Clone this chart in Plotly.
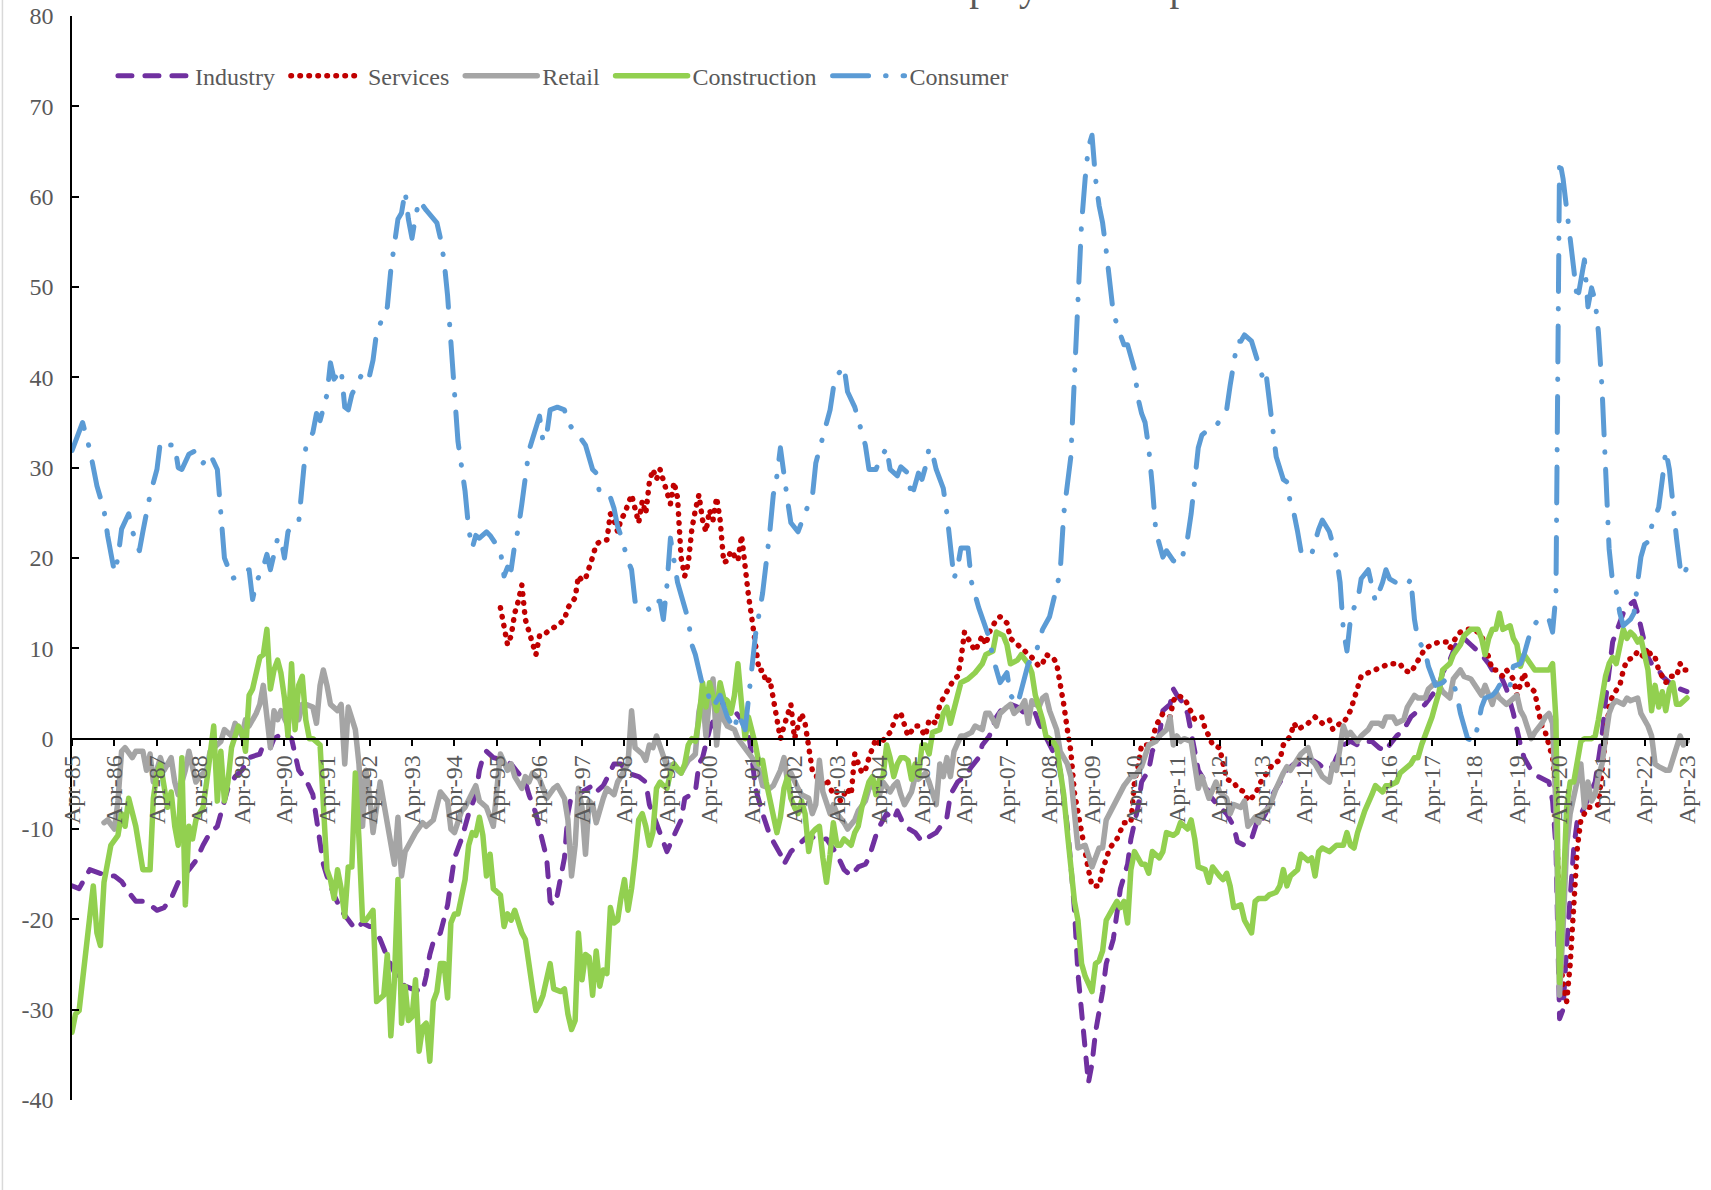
import pandas as pd
import plotly.graph_objects as go

# ---------------- data (month offset from Apr-1985, value) ----------------
START = "1985-04-01"

industry = [
    (0,-16.3),(2,-16.6),(5,-14.5),(8,-14.9),(10,-15.2),(12,-15.2),(14,-15.8),(16,-17),(18,-18),(20,-18),
    (22,-18.4),(24,-19),(26,-18.7),(28,-17.7),(30,-15.9),(33,-14.5),(35,-13.5),(37,-11.8),(39,-10.4),(41,-9.7),
    (43,-6.9),(44,-5.5),(46,-4.2),(48,-3.5),(50,-2.1),(53,-1.7),(54,-0.7),(56,-1),(57,0),(60,0.7),
    (61,0.3),(62,0),(64,-3.5),(66,-4.5),(68,-6.2),(69,-9),(70,-12.1),(71,-13.9),(72,-15.2),(74,-17.3),
    (76,-19),(78,-20.1),(80,-21.1),(82,-20.4),(84,-20.8),(85,-20.8),(87,-22.2),(89,-24.2),(92,-26.7),(94,-27.4),
    (96,-27.7),(99,-28),(100,-26.3),(101,-23.9),(102,-22.5),(104,-21.5),(105,-20.1),(106,-18.4),(107,-15.9),(108,-13.2),
    (110,-11.1),(111,-9.7),(112,-8.3),(114,-6.2),(115,-3.5),(116,-2.1),(117,-1.4),(119,-2.1),(122,-2.4),(124,-2.8),
    (126,-3.8),(128,-4.8),(129,-6.2),(131,-8.3),(132,-10),(134,-13.2),(135,-18),(136,-18.4),(137,-17.3),(139,-13.2),
    (140,-8.3),(141,-6.2),(144,-5.9),(147,-5.2),(148,-5.9),(150,-5.2),(153,-2.8),(155,-2.8),(157,-3.8),(160,-4.2),
    (162,-4.8),(163,-7.3),(164,-8.3),(167,-11.4),(168,-12.5),(170,-10.7),(172,-9),(173,-6.6),(176,-5.9),(177,-2.8),
    (178,-2.1),(180,1),(182,3.1),(183,3.8),(185,3.8),(187,3.1),(189,2.1),(191,0.7),(192,-2.1),(193,-5.5),
    (195,-8.3),(197,-10.7),(200,-12.8),(201,-13.9),(203,-12.5),(206,-11.4),(208,-10.7),(210,-11.1),(213,-11.1),(216,-12.8),
    (218,-14.5),(220,-15.2),(222,-14.2),(224,-13.9),(225,-13.2),(227,-10.7),(228,-9.7),(230,-8.3),(232,-9),(233,-8),
    (235,-9.7),(238,-10.4),(240,-11.4),(241,-11.1),(244,-10.4),(247,-8.7),(248,-6.2),(250,-4.8),(252,-4.2),(254,-3.1),
    (256,-2.1),(257,-0.7),(259,0.3),(261,2.4),(263,3.5),(265,3.8),(267,3.5),(269,2.8),(272,2.8),(273,1.7),
    (275,0.3),(277,-1.4),(279,-3.5),(280,-6.2),(281,-9.7),(282,-13.9),(283,-19),(284,-26),(285,-30.5),(286,-34.5),
    (287,-38.1),(288,-36),(289,-32.5),(291,-28),(292,-24.9),(294,-22.2),(295,-19.4),(296,-16.6),(298,-13.9),(299,-11.1),
    (301,-7.6),(302,-4.8),(304,-3.5),(305,-1.4),(307,0.3),(308,3.1),(310,3.8),(311,5.5),(312,4.8),(314,3.8),
    (315,2.8),(316,1),(317,-1.4),(318,-3.5),(320,-4.8),(321,-6.2),(324,-7.6),(326,-8.3),(328,-9.7),(329,-11.4),
    (331,-11.8),(333,-11.1),(335,-8.7),(336,-9),(337,-8.3),(339,-6.2),(341,-4.8),(343,-3.5),(345,-2.8),(347,-2.8),
    (349,-2.1),(352,-2.8),(354,-3.5),(356,-3.1),(357,-2.1),(359,-0.7),(361,-0.3),(363,-0.7),(365,-0.3),(367,-0.3),
    (369,-1),(371,-1.4),(372,-0.7),(374,0.3),(376,1),(378,2.4),(380,3.1),(382,3.8),(384,4.8),(386,5.9),
    (387,7.3),(389,8.7),(391,10.7),(393,11.1),(395,10.4),(397,9.7),(398,9.3),(400,8.3),(401,7.6),(403,7.3),
    (405,5.5),(407,2.8),(408,0.7),(409,-0.7),(410,-2.1),(412,-3.5),(414,-4.2),(416,-4.5),(417,-4.8),(418,-6.9),
    (419,-12),(420,-31),(421,-30),(422,-23),(423,-16.5),(424,-12.1),(425,-9),(427,-7.6),(428,-6.6),(430,-4.8),
    (431,-2.4),(432,0.3),(433,4.2),(434,7.6),(435,10.7),(436,11.8),(438,13.9),(440,14.9),(441,15.2),(442,13.9),
    (444,10.4),(445,9),(446,8.3),(448,7.6),(449,6.9),(451,6.2),(453,5.9),(454,5.5),(456,5.2),
]

services = [
    (121,14.5),(122,12.5),(123,10.4),(124,11.4),(125,13.9),(126,15.2),(127,17),(128,13.2),(129,11.8),(130,10.4),
    (131,9.3),(132,11.4),(133,11.4),(135,12.1),(137,12.5),(139,13.2),(140,14.5),(142,15.6),(143,18),(144,17.5),
    (145,17.7),(147,20.1),(148,21.5),(149,21.8),(151,22),(152,24.9),(153,24.2),(154,22.9),(155,24.2),(156,24.9),
    (157,26),(158,27),(160,23.9),(161,26.3),(162,24.9),(163,28.4),(164,29.8),(165,28.7),(166,29.8),(167,28.7),
    (168,27.4),(169,26),(170,28.4),(171,26.7),(172,20),(173,18),(174,19.4),(175,23.2),(176,25.3),(177,27),
    (178,24.2),(179,22.9),(180,25.3),(181,24.2),(182,26.7),(183,24.2),(184,19.5),(185,19.7),(186,20.8),(188,19.7),
    (189,22.5),(190,18.7),(191,15.9),(192,13.2),(193,10),(194,7.5),(195,7.6),(196,6.2),(197,6.6),(198,4.2),
    (199,1.7),(200,0),(201,1.4),(202,2.8),(203,3.8),(204,0),(206,2.8),(207,1.7),(208,-1),(209,-3.5),
    (210,-3.8),(211,-5.5),(213,-4.5),(215,-6.2),(216,-5.9),(217,-6.9),(219,-5.5),(220,-6.2),(221,-1.7),(223,-3.8),
    (224,-3.5),(225,-2.1),(227,0),(228,-0.7),(230,0.3),(231,0.7),(232,1.7),(233,2.8),(234,2.8),(236,0.3),
    (238,1.4),(239,1.4),(241,0.3),(242,2.1),(244,1.7),(245,3.8),(246,4.5),(247,5.2),(249,6.6),(250,6.9),
    (251,8.7),(252,11.8),(254,10.4),(255,9.7),(257,11.4),(258,10.4),(259,11.8),(261,13.2),(262,13.5),(264,12.8),
    (265,11.1),(267,10.4),(269,9.7),(271,9),(273,8),(274,8.3),(275,9.3),(277,9),(278,8.3),(279,6.2),
    (280,3.8),(281,1),(282,-1.4),(283,-6),(284,-8.3),(285,-10.4),(286,-12.5),(287,-14.5),(288,-16.3),(290,-16.3),
    (291,-14.5),(292,-13.2),(293,-12.1),(295,-11.1),(296,-10),(297,-9.3),(299,-9.3),(300,-4.8),(301,-3.1),(302,-0.7),
    (304,-0.7),(305,-0.3),(306,1.4),(308,2.8),(310,2.4),(311,4.2),(312,4.8),(314,4.5),(315,3.8),(316,3.1),
    (317,2.1),(319,2.4),(320,1),(321,0.3),(322,-0.7),(324,-1),(325,-2.8),(326,-4.5),(328,-4.8),(329,-5.5),
    (331,-5.9),(332,-6.9),(334,-6.2),(335,-5.5),(336,-4.5),(338,-3.5),(339,-2.8),(341,-2.4),(342,-0.7),(344,0.3),
    (345,1.7),(346,1),(348,1.4),(349,1.7),(351,2.4),(353,1.7),(355,2.1),(356,1),(358,1.7),(359,1.7),
    (361,3.1),(362,4.5),(363,5.9),(364,6.9),(366,7.3),(368,7.6),(370,8),(372,8.3),(375,8.3),(376,7.6),
    (378,7.3),(379,8),(381,9.3),(382,10),(384,10.4),(386,10.7),(388,10.7),(389,10),(391,11.4),(392,11.8),
    (394,12.1),(395,12.1),(397,11.8),(398,11.4),(400,9),(401,7.6),(402,7.6),(404,6.9),(405,7.6),(407,6.6),
    (408,4.8),(410,7.3),(411,5.9),(413,5.2),(414,3.1),(415,1.4),(416,0.7),(418,-2.1),(419,-6),(420,-22),
    (421,-27.5),(422,-29.1),(423,-25),(424,-17),(425,-12),(426,-9),(428,-7.6),(429,-7.6),(431,-7.3),(432,-3.5),
    (433,0.7),(434,3.5),(435,4.8),(437,5.9),(438,7.6),(439,8.7),(441,9),(442,9.7),(444,9),(445,10),
    (446,9),(447,9),(448,7.6),(450,6.2),(451,6.9),(453,6.9),(454,8.3),(455,7.6),(456,7.6),
]

retail = [
    (9,-9.3),(10,-9),(12,-10),(13,-6.9),(14,-1.4),(15,-1),(17,-2.1),(18,-1.4),(20,-1.4),(21,-3.5),
    (22,-1.7),(23,-4.8),(25,-2.1),(26,-3.5),(28,-2.1),(29,-4.8),(30,-6.2),(32,-3.5),(33,-1.4),(35,-4.8),
    (36,-4.2),(38,-3.5),(39,-1.4),(41,-0.7),(42,-0.3),(43,1),(45,0.3),(46,1.7),(48,0.3),(49,2.1),
    (50,1.4),(52,2.8),(53,3.8),(54,5.9),(56,-1),(57,3.1),(58,2.1),(59,3.1),(61,1.4),(62,3.8),
    (64,2.1),(65,3.8),(66,3.8),(68,3.5),(69,1.7),(70,5.9),(71,7.6),(72,5.9),(73,3.8),(75,3.1),
    (76,3.8),(77,-2.8),(78,3.5),(80,1),(81,-2.8),(82,-9.7),(83,-3.5),(84,-6.2),(85,-10.4),(87,-4.8),
    (88,-6.9),(89,-9),(91,-13.9),(92,-8.7),(93,-15.2),(94,-12.5),(96,-11.1),(97,-10.4),(99,-9.3),(100,-9.7),
    (102,-9),(104,-5.9),(106,-6.9),(107,-10),(108,-10.4),(110,-8),(111,-7.6),(113,-5.9),(114,-5.2),(115,-6.9),
    (117,-7.6),(118,-8.7),(119,-9.7),(120,-5.5),(121,-1.7),(123,-3.5),(124,-2.8),(125,-4.2),(127,-5.5),(128,-4.2),
    (129,-4.8),(130,-3.8),(132,-4.5),(133,-5.5),(134,-6.6),(136,-5.5),(137,-5.2),(139,-6.6),(140,-9),(141,-15.2),
    (142,-11.8),(143,-5.5),(144,-7.6),(145,-12.8),(146,-6.9),(147,-7.3),(148,-9.3),(150,-6.6),(151,-5.5),(153,-6.2),
    (154,-4.8),(155,-4.2),(157,-2.8),(158,3.1),(159,-1),(161,-1.7),(162,-2.4),(163,-0.7),(164,-1),(165,0.3),
    (167,-2.1),(168,-3.1),(170,-2.8),(171,-3.5),(172,-3.8),(174,-2.4),(175,-2.1),(176,-1.7),(177,3),(178,4.8),
    (179,0.3),(180,4.5),(181,6.6),(182,-0.7),(183,3.5),(184,2.1),(185,1.4),(187,1),(188,0),(190,-1),
    (191,-1.4),(192,-2.1),(194,-3.5),(195,-5.2),(197,-5.5),(198,-5.2),(200,-3.5),(201,-2.1),(202,-4.8),(203,-3.8),
    (205,-5.5),(206,-6.2),(208,-6.6),(209,-8.3),(210,-7.3),(211,-2.4),(212,-5.9),(214,-8.3),(215,-7.3),(216,-8.3),
    (218,-9.3),(219,-10),(221,-9),(222,-8),(224,-6.9),(225,-5.5),(226,-5.2),(228,-6.2),(229,-4.8),(231,-5.9),
    (232,-5.2),(233,-4.8),(234,-6.2),(235,-7.3),(237,-5.9),(238,-4.2),(239,-4.5),(241,-3.8),(242,-4.8),(244,-7.3),
    (245,-2.8),(246,-4.2),(247,-2.1),(248,-4.2),(249,-1.4),(251,0.3),(252,0.3),(254,0.7),(255,1.4),(257,1),
    (258,2.8),(259,2.8),(261,1.4),(262,2.8),(264,3.5),(265,3.8),(266,2.8),(268,3.5),(269,4.2),(270,1.7),
    (271,4.2),(273,3.5),(274,4.5),(275,4.8),(276,3.1),(278,1),(279,-1.4),(281,-2.8),(282,-4.2),(283,-8.3),
    (284,-12.1),(286,-11.8),(287,-13.2),(288,-14.2),(290,-12.1),(291,-12.1),(292,-9),(294,-7.6),(296,-6.2),(297,-5.2),
    (299,-4.2),(300,-4.2),(302,-3.1),(303,-1.7),(304,-0.7),(306,-0.3),(307,0.3),(309,1),(310,2.4),(311,-0.7),
    (312,0.3),(313,-0.3),(314,0),(316,-0.3),(317,-2.8),(318,-5.5),(319,-4.2),(320,-5.2),(321,-6.6),(323,-4.8),
    (324,-5.9),(326,-6.6),(327,-8.3),(328,-7.3),(330,-7.6),(331,-6.9),(332,-9.7),(334,-8.7),(335,-9.3),(336,-8.3),
    (338,-7.6),(339,-6.6),(340,-5.5),(342,-3.8),(343,-3.1),(344,-3.5),(346,-2.4),(347,-1.7),(349,-1),(350,-2.4),
    (351,-2.8),(353,-4.2),(355,-4.8),(356,-2.8),(357,-3.5),(359,1.4),(360,0.3),(361,0.7),(363,-0.3),(364,0.3),
    (366,1),(367,1.7),(369,1.7),(370,1.4),(371,2.4),(373,2.4),(374,1.7),(376,2.1),(377,3.5),(379,4.8),
    (380,4.5),(382,4.5),(383,5.5),(385,6.2),(386,5.9),(387,5.2),(389,4.5),(390,6.6),(392,7.6),(393,6.9),
    (395,6.6),(396,5.9),(398,4.8),(399,5.9),(401,3.8),(402,5.2),(403,4.5),(405,3.8),(406,4.2),(408,4.8),
    (409,3.1),(410,2.4),(412,0),(413,0.7),(415,1.7),(416,2.4),(417,2.8),(418,1.7),(419,-7.6),(420,-28.4),
    (421,-21),(422,-11.8),(423,-8.3),(425,-4.8),(426,-2.8),(427,-7.6),(428,-4.8),(429,-6.9),(430,-6.2),(431,-4.2),
    (432,-2.8),(433,0),(434,2.8),(435,3.8),(436,4.2),(438,3.8),(439,4.5),(440,4.2),(442,4.5),(443,2.8),
    (445,1.4),(446,0.3),(447,-2.8),(448,-3.1),(450,-3.5),(451,-3.5),(453,-0.7),(454,0.3),(455,-0.7),(456,-0.3),
]

construction = [
    (0,-32.5),(1,-30.5),(2,-30.1),(4,-22.9),(6,-16.3),(7,-21.5),(8,-22.9),(9,-15.9),(11,-11.8),(13,-10.7),
    (14,-8.3),(15,-9.7),(16,-6.6),(18,-9.7),(20,-14.5),(22,-14.5),(23,-6.6),(24,-3.8),(25,-2.8),(27,-7.6),
    (28,-5.9),(29,-9.7),(30,-11.8),(31,-2.1),(32,-18.4),(33,-9.7),(34,-11.1),(35,-9),(37,-7.6),(38,-4.8),
    (39,-1.4),(40,1.4),(41,-6.9),(42,-1.4),(43,-6.9),(44,-4.8),(45,-1),(47,1.4),(48,0.7),(49,-1.4),
    (50,4.8),(51,5.5),(53,9),(54,9.3),(55,12.1),(56,5.5),(57,7.6),(58,8.7),(59,7.3),(60,4.5),
    (61,0.3),(62,8.3),(63,1),(64,5.9),(65,6.9),(66,2.1),(67,0),(68,0),(70,-0.7),(71,-6.2),
    (72,-14.5),(73,-15.6),(74,-17.7),(75,-14.5),(76,-16.6),(77,-19.7),(78,-14.2),(79,-14.2),(80,-3.8),(81,-11.1),
    (82,-20.1),(83,-20.1),(84,-19.5),(85,-19),(86,-29.1),(88,-28.4),(89,-23.9),(90,-32.9),(91,-26.7),(92,-15.6),
    (93,-31.5),(94,-27.4),(95,-31.2),(96,-30.8),(97,-26.7),(98,-34.6),(99,-31.9),(100,-31.5),(101,-35.7),(102,-29.1),
    (103,-28),(104,-24.9),(105,-24.9),(106,-28.7),(107,-20.4),(108,-19.4),(109,-19.4),(110,-17.3),(111,-15.6),(112,-11.8),
    (113,-10.4),(114,-10.7),(115,-8.7),(116,-10.7),(117,-15.2),(118,-12.8),(119,-16.6),(121,-17.3),(122,-20.8),(123,-19.4),
    (124,-20.1),(125,-19),(127,-21.5),(128,-22.2),(129,-25.6),(130,-27.7),(131,-30.1),(132,-29.4),(133,-28.4),(135,-24.9),
    (136,-27.7),(138,-28),(139,-27.7),(140,-30.5),(141,-32.2),(142,-31.2),(143,-21.5),(144,-26.7),(145,-23.9),(146,-24.2),
    (147,-28.4),(148,-23.5),(149,-27.4),(150,-25.6),(151,-26),(152,-18.7),(153,-20.4),(154,-20.1),(155,-17.7),(156,-15.6),
    (157,-19),(158,-16.6),(159,-13.2),(160,-9),(161,-8.3),(162,-9.7),(163,-11.8),(164,-10.4),(165,-5.5),(166,-4.8),
    (167,-5.2),(168,-5.5),(169,-3.8),(170,-2.8),(172,-3.8),(173,-2.8),(174,-0.7),(175,0),(176,-0.3),(177,2.1),
    (178,6.2),(179,3.5),(180,6.2),(181,4.8),(182,3.1),(183,6.2),(184,4.5),(185,4.2),(186,2.8),(187,4.8),
    (188,8.3),(189,3.8),(190,0),(191,2.4),(192,1),(193,-0.7),(194,-2.8),(195,-2.4),(196,-4.8),(197,-6.9),
    (198,-8.3),(199,-10.4),(200,-8.7),(201,-5.5),(202,-4.2),(203,-6.6),(204,-7.6),(205,-8.3),(206,-6.9),(207,-8.3),
    (208,-12.5),(209,-10.4),(210,-10),(211,-9.7),(212,-13.2),(213,-15.9),(214,-12.8),(215,-9.3),(216,-11.8),(217,-11.8),
    (218,-11.1),(219,-11.4),(220,-11.8),(221,-10.4),(222,-9.7),(223,-7.6),(224,-6.2),(225,-4.8),(226,-4.2),(227,-6.2),
    (228,-4.5),(229,-4.2),(230,-0.7),(231,-2.1),(232,-4.2),(233,-2.8),(234,-2.1),(235,-2.1),(236,-2.4),(237,-4.5),
    (238,-2.8),(239,-4.2),(240,-0.7),(241,-0.7),(242,-1.7),(243,0.7),(245,1),(246,2.8),(247,3.5),(248,1.7),
    (250,4.8),(251,6.2),(253,6.6),(254,6.9),(255,7.3),(257,8.3),(258,9.3),(260,9.7),(261,11.8),(263,11.4),
    (264,10.4),(265,8.3),(267,8.7),(268,9.3),(270,8.3),(271,7.3),(272,4.8),(274,2.1),(275,0.3),(277,-0.3),
    (278,-1),(279,-3.5),(280,-6.2),(281,-10.4),(282,-14.5),(283,-18),(284,-20.1),(285,-24.9),(286,-26.3),(288,-28),
    (289,-24.9),(290,-24.6),(291,-23.5),(292,-20.1),(294,-18.7),(295,-18),(296,-18.7),(297,-18),(298,-20.4),(299,-14.5),
    (300,-12.5),(302,-13.9),(303,-13.9),(304,-14.9),(305,-12.5),(307,-13.2),(308,-12.5),(309,-10.4),(311,-10.7),(312,-10.4),
    (313,-9.3),(315,-10),(316,-9),(317,-11.1),(318,-14.2),(320,-14.5),(321,-15.9),(322,-14.2),(324,-15.2),(325,-15.6),
    (326,-14.9),(327,-16.3),(328,-18.7),(330,-18.4),(331,-20.1),(333,-21.5),(334,-18),(335,-17.7),(337,-17.7),(338,-17.3),
    (340,-17),(341,-16.3),(342,-14.5),(343,-16.3),(344,-15.2),(346,-14.5),(347,-12.8),(349,-13.5),(350,-13.2),(351,-15.2),
    (352,-12.5),(353,-12.1),(355,-12.5),(356,-12.1),(357,-11.8),(359,-11.8),(360,-10.4),(361,-11.8),(362,-12.1),(363,-10.4),
    (364,-9),(365,-8),(367,-6.2),(368,-5.2),(370,-5.9),(371,-5.2),(372,-5.2),(374,-4.8),(375,-3.8),(376,-3.5),
    (378,-2.8),(379,-2.1),(380,-2.1),(381,-0.7),(382,0.3),(383,1.4),(384,2.4),(385,3.8),(386,5.2),(387,7.6),
    (389,8.3),(390,9.3),(392,10.4),(393,11.4),(394,11.8),(395,12.1),(397,12.1),(398,11.1),(399,9.3),(400,11.1),
    (401,12.1),(402,12.1),(403,13.9),(404,12.1),(406,12.5),(407,11.1),(408,10.4),(409,8),(410,9.3),(412,8.3),
    (413,7.6),(415,7.6),(416,7.6),(417,7.6),(418,8.3),(419,2.1),(420,-27),(421,-16.6),(422,-7.6),(423,-4.8),
    (424,-4.8),(426,-0.3),(427,0),(429,0),(430,0.3),(431,2.1),(432,4.8),(433,6.9),(434,8.3),(435,9),
    (436,8.3),(437,10.4),(438,12.1),(439,11.1),(440,11.8),(441,11.4),(442,10.7),(443,11.1),(444,9),(445,7.6),
    (446,3.1),(447,5.9),(448,3.5),(449,5.2),(450,3.1),(451,5.5),(452,6.2),(453,3.8),(454,3.8),(456,4.5),
]

consumer = [
    (0,31.9),(3,35),(5,32),(7,28),(9,25.3),(10,22.5),(12,18.4),(13,20),(14,23.2),(16,24.9),
    (17,23),(19,20.8),(20,22.9),(22,27),(24,29.8),(25,32.9),(27,32.5),(29,32.5),(30,30),(31,29.8),
    (33,31.5),(35,31.9),(37,30.5),(39,31.5),(41,29.8),(42,25.5),(43,20),(44,19),(45,17.7),(47,18),
    (48,18.4),(50,18.7),(51,15.4),(52,17.3),(54,19),(55,20.4),(56,18.7),(57,20.4),(58,22.2),(59,22.2),
    (60,20),(61,22.9),(62,23.5),(64,23.9),(65,29),(66,32.2),(68,33.9),(69,36),(70,35.2),(72,38.1),
    (73,41.6),(74,39.8),(76,40.9),(77,36.7),(78,36.4),(79,38.1),(82,40.5),(83,40.9),(84,40.2),(85,41.9),
    (86,45),(89,47.8),(90,51.9),(91,54.7),(92,57.5),(93,58.2),(94,60.6),(95,57.5),(96,55.4),(97,57.8),
    (98,59.6),(100,58.5),(103,57.1),(104,55.4),(105,53),(106,49),(107,44),(108,38.5),(109,32.9),(110,30.1),
    (111,27.4),(112,23.2),(113,21.1),(114,22.5),(115,22.2),(117,22.9),(118,22.5),(121,20.8),(122,18),(123,19),
    (124,18.7),(125,21.5),(126,23.2),(127,26),(128,28.7),(129,31.9),(130,33.2),(132,35.7),(133,32.9),(134,33.6),
    (135,36.4),(137,36.7),(139,36.4),(140,35),(142,33.9),(143,33.6),(145,32.5),(147,29.8),(148,29.4),(149,27),
    (152,26.7),(153,25.5),(154,23.5),(155,22.5),(157,19.7),(158,18.7),(159,15.2),(161,15.2),(162,14.9),(163,14.2),
    (164,15.2),(166,15.2),(167,13.2),(168,17),(169,22.2),(170,19.7),(171,17.3),(172,15.9),(173,14.5),(174,13.2),
    (175,10.4),(176,9.3),(177,7.6),(178,5.9),(179,5.5),(181,3.5),(183,4.8),(184,3.5),(185,2.4),(187,1),
    (188,2.8),(190,1),(191,4.2),(192,6.9),(193,11.5),(195,16.1),(196,19),(197,22.9),(198,27),(199,29.1),
    (200,32.2),(201,28.7),(202,26.3),(203,23.9),(205,22.9),(208,26),(209,26.7),(210,30.5),(212,33.2),(214,36.4),
    (215,38.8),(216,40.2),(218,41.2),(219,38.4),(221,36.7),(222,35.3),(224,32.5),(225,29.8),(227,29.8),(228,30.8),
    (230,32.2),(231,29.8),(233,29.1),(234,30.1),(236,29.4),(237,26.7),(238,28),(239,29.4),(240,28.7),(241,30.1),
    (242,32.2),(243,31.5),(244,29.8),(246,27.7),(247,24.9),(248,21),(249,17.7),(250,19),(251,21.1),(253,21.1),
    (254,17.3),(256,14.5),(257,13.2),(259,11.1),(260,9),(262,6.2),(264,7.3),(265,4.8),(267,3.8),(269,6.9),
    (270,8.3),(272,9.3),(274,12.1),(276,13.5),(277,15.2),(279,18.4),(280,24.9),(281,28.4),(282,31.2),(283,40),
    (284,50),(285,57),(286,62),(287,65.5),(288,66.8),(289,62),(290,59),(291,57.1),(292,54),(293,50.6),
    (294,47.1),(296,44.7),(297,43.6),(298,43.6),(300,40.9),(301,37.7),(302,36),(303,35),(304,32.2),(305,28),
    (306,23),(307,21.5),(308,20.1),(309,20.8),(311,19.7),(313,19.4),(315,22.2),(316,24.9),(317,28.4),(318,32.2),
    (319,33.6),(321,34.3),(323,34.6),(324,35.3),(326,36.4),(327,39.1),(328,42),(329,44),(330,44),(331,44.7),
    (333,44),(335,41.2),(336,40.2),(337,40.9),(338,37.7),(339,34.6),(340,31.2),(342,28.7),(343,28.4),(344,26),
    (345,24.9),(346,22.9),(347,20.8),(349,20.1),(350,20.4),(352,23.2),(353,24.2),(355,22.9),(357,20.1),(358,17.3),
    (359,12),(360,9.7),(361,13.2),(362,14.5),(363,15.2),(364,17.7),(366,18.7),(368,15.2),(370,17.3),(371,18.7),
    (372,17.7),(375,17),(377,17),(378,17.7),(379,13.2),(380,10.9),(382,9.7),(383,8),(384,6.9),(385,5.9),
    (387,6.2),(388,6.6),(390,6.2),(391,4.8),(392,2.8),(393,1.4),(394,0),(396,-0.3),(397,1.7),(398,3.5),
    (399,4.5),(401,4.8),(402,5.2),(403,5.9),(404,6.2),(405,6.6),(406,5.9),(407,8),(409,8.3),(410,9.3),
    (411,10.7),(412,12.1),(414,13.2),(415,13.5),(417,13.2),(418,11.8),(419,16),(420,64.1),(421,62),(422,58.2),
    (423,55.1),(424,52),(425,48.5),(426,50.9),(427,53),(428,47.8),(429,49.9),(430,48.5),(431,45),(432,38.8),
    (433,30),(434,21),(435,17.3),(436,16.3),(437,13.9),(438,12.5),(440,13.2),(441,13.9),(442,17.3),(443,20.1),
    (444,21.5),(445,21.8),(446,23.5),(448,25.6),(449,28.7),(450,31.9),(451,29.8),(452,25.5),(453,22.2),(454,19),
    (455,18),(456,19),
]

series_names = ["Industry", "Services", "Retail", "Construction", "Consumer"]
series_colors = ["#7030A0", "#C00000", "#A5A5A5", "#92D050", "#5B9BD5"]
series_dash = ["14px,13px", "0.5px,8.5px", "solid", "solid", "36px,17px,0.5px,17px"]
series_width = [5, 5.5, 5.5, 5.5, 5]

y_tick_vals = [-40, -30, -20, -10, 0, 10, 20, 30, 40, 50, 60, 70, 80]
y_tick_text = ["-40", "-30", "-20", "-10", "0", "10", "20", "30", "40", "50", "60", "70", "80"]
title_text = "Chart 3: Consumer and Business Employment Expectations"

FONT = "Liberation Serif, Times New Roman, serif"
TEXT_COLOR = "#595959"


def to_dates(points):
    start = pd.Timestamp(START)
    return [start + pd.DateOffset(months=m) for m, _ in points]


fig = go.Figure()
for pts, name, color, dash, width in zip(
    [industry, services, retail, construction, consumer],
    series_names, series_colors, series_dash, series_width,
):
    fig.add_trace(go.Scatter(
        x=to_dates(pts), y=[v for _, v in pts],
        name=name + "\u00a0", mode="lines",
        line=dict(color=color, width=width, dash=dash),
    ))

fig.update_layout(
    width=1711, height=1190,
    margin=dict(l=72, r=21, t=16, b=90, autoexpand=False),
    paper_bgcolor="white", plot_bgcolor="white",
    font=dict(family=FONT, size=24, color=TEXT_COLOR),
    showlegend=True,
    legend=dict(
        orientation="h", x=0.0253, xanchor="left", y=0.9446, yanchor="middle",
        font=dict(family=FONT, size=24, color=TEXT_COLOR),
        itemwidth=72, bgcolor="rgba(0,0,0,0)", borderwidth=0,
        traceorder="normal",
    ),
    xaxis=dict(
        type="date", range=["1985-04-01", "2023-04-27"],
        tickformat="%b-%y", dtick="M12", tick0="1985-04-01",
        tickangle=-90, ticks="outside", ticklen=6, tickwidth=1.5, tickcolor="black",
        showline=True, linecolor="black", linewidth=1.8,
        showgrid=False, zeroline=False,
        anchor="free", position=40 / 120,
        tickfont=dict(family=FONT, size=24, color=TEXT_COLOR),
    ),
    yaxis=dict(
        range=[-40, 80], tickmode="array", tickvals=y_tick_vals, ticktext=y_tick_text,
        ticks="inside", ticklen=7, tickwidth=1.5, tickcolor="black",
        showline=True, linecolor="black", linewidth=1.5,
        showgrid=False, zeroline=False, ticklabelstandoff=12,
        tickfont=dict(family=FONT, size=24, color=TEXT_COLOR),
    ),
    annotations=[dict(
        text=title_text, xref="paper", yref="paper", x=0.4876, y=1.0,
        xanchor="center", yanchor="bottom", yshift=5, showarrow=False,
        font=dict(family=FONT, size=39, color=TEXT_COLOR),
    )],
    shapes=[dict(
        type="line", xref="paper", yref="paper",
        x0=-0.0430, x1=-0.0430, y0=-0.09, y1=1.02,
        line=dict(color="#D9D9D9", width=1.5),
    )],
)

post = (
    "document.body.style.margin='0';"
    "document.querySelectorAll('path.js-line').forEach(function(p){"
    "p.style.strokeLinecap='round';p.style.strokeLinejoin='round';});"
)
fig.write_html("out.html", config={"displayModeBar": False}, post_script=post)
